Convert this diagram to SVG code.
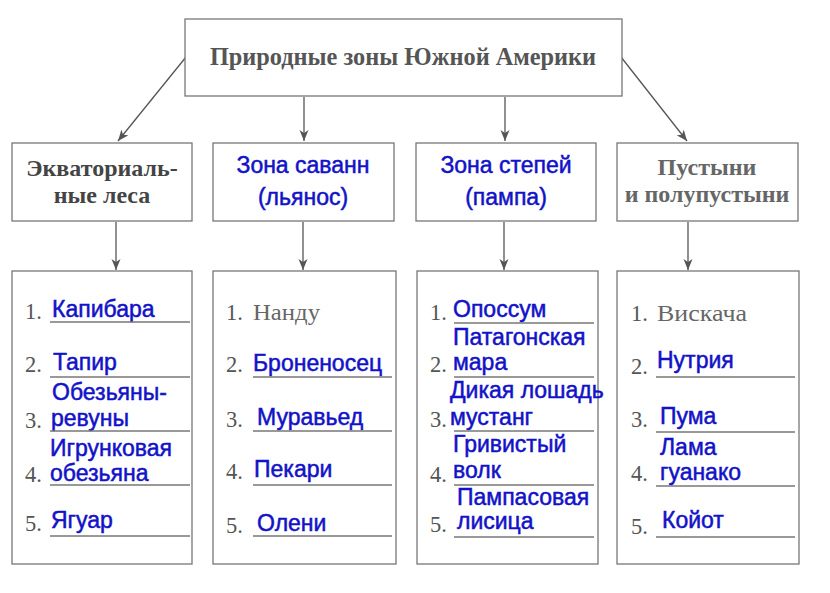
<svg xmlns="http://www.w3.org/2000/svg" width="830" height="593" viewBox="0 0 830 593">
<defs>
<marker id="ah" markerUnits="userSpaceOnUse" markerWidth="12" markerHeight="10" refX="11" refY="4.5" orient="auto">
<path d="M0,0 L11,4.5 L0,9 L3,4.5 z" fill="#555"/>
</marker>
<style>
.box{fill:#fff;stroke:#777;stroke-width:1.3}
.ttl{font-family:"Liberation Serif",serif;font-weight:bold;font-size:24.3px;fill:#555}
.hg{font-family:"Liberation Serif",serif;font-weight:bold;font-size:24px;text-anchor:middle}
.hb{font-family:"Liberation Sans",Arial,sans-serif;font-size:23px;fill:#1212c8;stroke:#1212c8;stroke-width:0.5;text-anchor:middle}
.num{font-family:"Liberation Serif",serif;font-size:22.5px;fill:#555}
.gr{font-family:"Liberation Serif",serif;font-size:22.5px;fill:#666}
.bl{font-family:"Liberation Sans",Arial,sans-serif;font-size:23px;fill:#1212c8;stroke:#1212c8;stroke-width:0.5}
.ul{stroke:#777;stroke-width:1.3}
.con{stroke:#555;stroke-width:1.3;fill:none;marker-end:url(#ah)}
</style>
</defs>
<rect width="830" height="593" fill="#fff"/>
<g id="connectors">
<line class="con" x1="186" y1="57" x2="118" y2="141"/>
<line class="con" x1="304" y1="97" x2="304" y2="141"/>
<line class="con" x1="505" y1="97" x2="505" y2="141"/>
<line class="con" x1="621" y1="57" x2="687" y2="141"/>
<line class="con" x1="116" y1="222" x2="116" y2="270"/>
<line class="con" x1="303" y1="222" x2="303" y2="270"/>
<line class="con" x1="504" y1="222" x2="504" y2="270"/>
<line class="con" x1="688" y1="222" x2="688" y2="270"/>
</g>
<g id="title">
<rect class="box" x="185" y="19" width="437" height="77"/>
<text class="ttl" x="403" y="65" text-anchor="middle">Природные зоны Южной Америки</text>
</g>
<g id="h1">
<rect class="box" x="12" y="143" width="180" height="78"/>
<text class="hg" x="102" y="176" fill="#444">Экваториаль-</text>
<text class="hg" x="102" y="203" fill="#444">ные леса</text>
</g>
<g id="h2">
<rect class="box" x="213" y="143" width="181" height="78"/>
<text class="hb" x="303" y="173">Зона саванн</text>
<text class="hb" x="303" y="205">(льянос)</text>
</g>
<g id="h3">
<rect class="box" x="416" y="143" width="180" height="78"/>
<text class="hb" x="506" y="173">Зона степей</text>
<text class="hb" x="506" y="205">(пампа)</text>
</g>
<g id="h4">
<rect class="box" x="617" y="143" width="181" height="78"/>
<text class="hg" x="707" y="175" fill="#666">Пустыни</text>
<text class="hg" x="707" y="202" fill="#666">и полупустыни</text>
</g>
<g id="l1">
<rect class="box" x="12" y="271" width="180" height="293"/>
<text class="num" x="25" y="319">1.</text><text class="bl" x="52" y="317">Капибара</text><line class="ul" x1="50" y1="322" x2="190" y2="322"/>
<text class="num" x="25" y="372">2.</text><text class="bl" x="53" y="370">Тапир</text><line class="ul" x1="50" y1="377" x2="190" y2="377"/>
<text class="bl" x="52" y="400">Обезьяны-</text>
<text class="num" x="25" y="428">3.</text><text class="bl" x="51" y="426">ревуны</text><line class="ul" x1="50" y1="431" x2="190" y2="431"/>
<text class="bl" x="50" y="456">Игрунковая</text>
<text class="num" x="25" y="482">4.</text><text class="bl" x="50" y="481">обезьяна</text><line class="ul" x1="50" y1="485" x2="190" y2="485"/>
<text class="num" x="25" y="531">5.</text><text class="bl" x="51" y="528">Ягуар</text><line class="ul" x1="50" y1="536" x2="190" y2="536"/>
</g>
<g id="l2">
<rect class="box" x="213" y="271" width="183" height="293"/>
<text class="num" x="226" y="320">1.</text><text class="gr" x="253" y="320" textLength="67" lengthAdjust="spacingAndGlyphs">Нанду</text>
<text class="num" x="226" y="372">2.</text><text class="bl" x="253" y="371">Броненосец</text><line class="ul" x1="253" y1="377" x2="392" y2="377"/>
<text class="num" x="226" y="427">3.</text><text class="bl" x="257" y="425">Муравьед</text><line class="ul" x1="253" y1="431" x2="392" y2="431"/>
<text class="num" x="226" y="479">4.</text><text class="bl" x="254" y="477">Пекари</text><line class="ul" x1="253" y1="485" x2="392" y2="485"/>
<text class="num" x="226" y="533">5.</text><text class="bl" x="257" y="531">Олени</text><line class="ul" x1="253" y1="536" x2="392" y2="536"/>
</g>
<g id="l3">
<rect class="box" x="417" y="271" width="181" height="293"/>
<text class="num" x="430" y="320">1.</text><text class="bl" x="453" y="317">Опоссум</text><line class="ul" x1="454" y1="323" x2="594" y2="323"/>
<text class="bl" x="453" y="345">Патагонская</text>
<text class="num" x="430" y="372">2.</text><text class="bl" x="453" y="370">мара</text><line class="ul" x1="454" y1="377" x2="594" y2="377"/>
<text class="bl" x="450" y="398">Дикая лошадь</text>
<text class="num" x="430" y="427">3.</text><text class="bl" x="450" y="425">мустанг</text><line class="ul" x1="454" y1="431" x2="594" y2="431"/>
<text class="bl" x="453" y="452">Гривистый</text>
<text class="num" x="430" y="482">4.</text><text class="bl" x="453" y="478">волк</text><line class="ul" x1="454" y1="485" x2="594" y2="485"/>
<text class="bl" x="457" y="505">Пампасовая</text>
<text class="num" x="430" y="532">5.</text><text class="bl" x="457" y="529">лисица</text><line class="ul" x1="454" y1="537" x2="594" y2="537"/>
</g>
<g id="l4">
<rect class="box" x="617" y="271" width="182" height="293"/>
<text class="num" x="631" y="321">1.</text><text class="gr" x="657" y="321" textLength="90" lengthAdjust="spacingAndGlyphs">Вискача</text>
<text class="num" x="631" y="374">2.</text><text class="bl" x="657" y="368">Нутрия</text><line class="ul" x1="656" y1="377" x2="795" y2="377"/>
<text class="num" x="631" y="427">3.</text><text class="bl" x="660" y="424">Пума</text><line class="ul" x1="656" y1="432" x2="795" y2="432"/>
<text class="bl" x="660" y="455">Лама</text>
<text class="num" x="631" y="481">4.</text><text class="bl" x="660" y="480">гуанако</text><line class="ul" x1="656" y1="486" x2="795" y2="486"/>
<text class="num" x="631" y="534">5.</text><text class="bl" x="662" y="528">Койот</text><line class="ul" x1="656" y1="537" x2="795" y2="537"/>
</g>
</svg>
